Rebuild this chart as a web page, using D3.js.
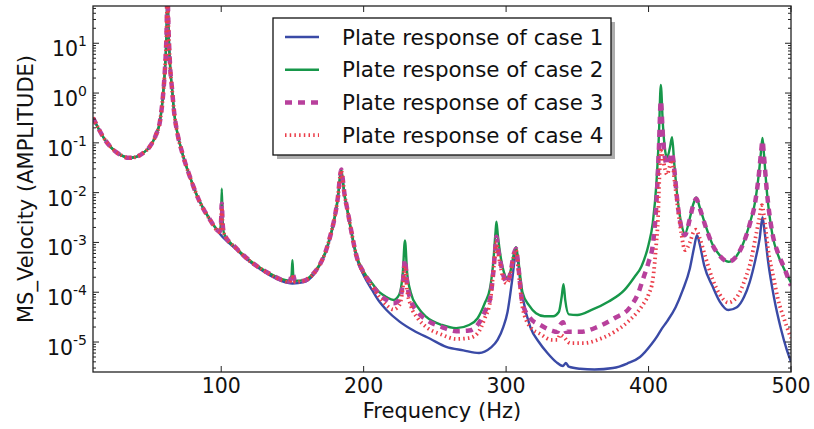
<!DOCTYPE html>
<html>
<head>
<meta charset="utf-8">
<script src="https://cdn.jsdelivr.net/npm/d3@7"></script>
<style>
  body { margin: 0; background: #fff; }
  text { font-family: "DejaVu Sans", sans-serif; fill: #111; }
</style>
</head>
<body>
<svg id="chart" width="814" height="429"></svg>
<script>
// frequency (Hz) / amplitude pairs
const lowBand = [
  [10, 0.32], [14, 0.19], [18, 0.12], [22, 0.085], [26, 0.066], [30, 0.056], [35, 0.05],
  [40, 0.052], [45, 0.062], [50, 0.085], [54, 0.14], [57, 0.27], [59, 0.8], [60.5, 3],
  [61.5, 12], [62.3, 100], [63, 20], [64, 4], [65.5, 1.2], [67, 0.4], [69, 0.17],
  [73, 0.058], [78, 0.021], [84, 0.0075], [92, 0.0029]
];

const case1 = [
  [99, 1.5e-3], [110, 7.5e-4], [118, 4.6e-4], [126, 3.1e-4], [134, 2.2e-4], [142, 1.7e-4],
  [150, 1.5e-4], [158, 1.6e-4], [164, 2.1e-4], [169, 3.4e-4], [173, 6e-4], [177, 1.4e-3],
  [180, 3.5e-3], [182, 8e-3], [183.5, 0.02], [184.3, 0.026], [185.2, 0.018], [186.5, 0.009],
  [188.5, 0.0045], [191, 0.0018], [195, 5e-4], [200, 2.2e-4], [206, 1.1e-4], [211, 6.5e-5],
  [216, 4.4e-5], [225, 2.6e-5], [235, 1.7e-5], [247, 1.15e-5], [258, 8e-6], [270, 6.8e-6],
  [281, 6e-6], [289, 7.6e-6], [294, 1.1e-5], [298, 2e-5], [301, 4e-5], [304, 1.55e-4],
  [306, 4.5e-4], [307, 7e-4], [308.2, 4.5e-4], [310, 1.6e-4], [312, 7e-5], [317, 2e-5],
  [323, 1e-5], [329, 6e-6], [335, 4e-6], [340, 3.3e-6], [342, 3.8e-6], [344, 3.2e-6],
  [352, 2.9e-6], [362, 2.8e-6], [375, 3e-6], [385, 3.7e-6], [394, 5e-6], [402, 9e-6],
  [406, 1.3e-5], [409, 1.8e-5], [413, 2.6e-5], [419, 5e-5], [424, 1.1e-4], [429, 3e-4],
  [432, 8e-4], [434, 1.4e-3], [436, 9e-4], [439, 3.5e-4], [445, 1.3e-4], [450, 6.5e-5],
  [456, 4.4e-5], [462, 5e-5], [467, 8e-5], [471, 1.6e-4], [475, 4.5e-4], [478, 1.2e-3],
  [480, 3.2e-3], [481.5, 1.6e-3], [484, 4e-4], [488, 8e-5], [493, 1.8e-5], [497, 7e-6],
  [500, 4e-6]
];

const case2 = [
  [99, 1.7e-3], [99.8, 2.5e-3], [100.4, 0.012], [101, 2.8e-3], [102, 1.5e-3], [110, 8e-4],
  [118, 4.9e-4], [126, 3.3e-4], [134, 2.4e-4], [142, 1.85e-4], [148, 1.7e-4], [149.4, 2.2e-4],
  [150, 4.4e-4], [150.6, 2.2e-4], [152, 1.7e-4], [158, 1.75e-4], [164, 2.3e-4], [169, 3.6e-4],
  [173, 6.3e-4], [177, 1.5e-3], [180, 3.7e-3], [182, 8.5e-3], [183.5, 0.022], [184.3, 0.029],
  [185.2, 0.02], [186.5, 0.0095], [188.5, 0.0047], [191, 0.0019], [195, 5.5e-4], [200, 2.6e-4],
  [206, 1.5e-4], [211, 1e-4], [216, 8e-5], [221, 7e-5], [225, 9e-5], [227.5, 2.5e-4],
  [229, 1.1e-3], [230.5, 2.5e-4], [233, 1e-4], [238, 5e-5], [244, 3.2e-5], [255, 2.2e-5],
  [265, 1.9e-5], [274, 2.2e-5], [280, 3e-5], [285, 6e-5], [288.7, 1.2e-4], [291, 4e-4],
  [292.5, 1.5e-3], [293.2, 2.6e-3], [294.2, 1.4e-3], [296.5, 4.5e-4], [298.5, 2.5e-4],
  [300.5, 1.95e-4], [303, 2.6e-4], [305.5, 6e-4], [307, 8e-4], [308.5, 4.5e-4], [311.5, 1e-4],
  [316, 5.5e-5], [321, 3.8e-5], [327, 3.3e-5], [333, 3.3e-5], [337, 4e-5], [339, 8e-5],
  [340.3, 1.45e-4], [341.5, 7e-5], [344, 3.6e-5], [350, 3.5e-5], [360, 4.4e-5], [372, 6.5e-5],
  [383, 1.1e-4], [390, 2e-4], [395, 3.3e-4], [400, 9e-4], [403, 2.5e-3], [405.5, 0.015],
  [407.3, 0.15], [408.6, 1.45], [410, 0.25], [411.5, 0.075], [413, 0.05], [415, 0.08],
  [416.5, 0.13], [418, 0.04], [420.5, 0.007], [423, 2.4e-3], [425.5, 1.5e-3], [429, 3.1e-3],
  [431.5, 6e-3], [433.5, 8e-3], [436, 5e-3], [440, 2.2e-3], [445, 9e-4], [450, 5.5e-4],
  [456, 4.1e-4], [461, 5e-4], [466, 8.9e-4], [471, 2.4e-3], [475, 7e-3], [477.5, 0.025],
  [479, 0.07], [480, 0.125], [481, 0.06], [483, 0.011], [487, 1.4e-3], [491, 5.5e-4],
  [495, 3e-4], [500, 1.55e-4]
];

const case3 = [
  [99, 1.65e-3], [99.8, 2.2e-3], [100.4, 6e-3], [101, 2.4e-3], [102, 1.5e-3], [110, 8e-4],
  [118, 4.8e-4], [126, 3.2e-4], [134, 2.35e-4], [142, 1.8e-4], [148, 1.65e-4], [150, 2.4e-4],
  [152, 1.65e-4], [158, 1.7e-4], [164, 2.25e-4], [169, 3.5e-4], [173, 6.2e-4], [177, 1.5e-3],
  [180, 3.6e-3], [182, 8.5e-3], [183.5, 0.022], [184.3, 0.029], [185.2, 0.02], [186.5, 0.0095],
  [188.5, 0.0047], [191, 0.0019], [195, 5.3e-4], [200, 2.5e-4], [206, 1.4e-4], [211, 9e-5],
  [216, 7e-5], [221, 6e-5], [225, 7e-5], [227.5, 1.5e-4], [229, 4.5e-4], [230.5, 1.5e-4],
  [233, 7e-5], [238, 4e-5], [244, 2.8e-5], [255, 2e-5], [265, 1.65e-5], [274, 1.7e-5],
  [280, 2.2e-5], [285, 4e-5], [289, 8e-5], [291, 2.5e-4], [292.5, 8e-4], [293.2, 1.3e-3],
  [294.2, 8e-4], [296.5, 3.5e-4], [298.5, 2e-4], [300.5, 1.55e-4], [303, 2.4e-4], [305.5, 6e-4],
  [307, 7.5e-4], [308.5, 3.5e-4], [311.5, 6e-5], [317, 3e-5], [324, 2.2e-5], [332, 1.7e-5],
  [336, 1.6e-5], [338, 2.2e-5], [340, 2.5e-5], [342, 1.6e-5], [352, 1.6e-5], [364, 2e-5],
  [376, 3e-5], [387, 5e-5], [393, 1e-4], [396, 1.8e-4], [400, 4e-4], [403, 9e-4], [405.5, 6e-3],
  [407.3, 0.08], [408.6, 0.7], [410, 0.15], [411.5, 0.05], [413, 0.036], [415, 0.05],
  [416.5, 0.063], [418, 0.03], [420.5, 0.0056], [423, 2e-3], [425.5, 1.4e-3], [429, 3e-3],
  [431.5, 5.8e-3], [433.5, 7.5e-3], [436, 4.8e-3], [440, 2.1e-3], [445, 8.8e-4], [450, 5.4e-4],
  [456, 4.1e-4], [461, 5e-4], [466, 8.8e-4], [471, 2.3e-3], [475, 6.8e-3], [477.5, 0.024],
  [479, 0.065], [480, 0.11], [481, 0.055], [483, 0.011], [487, 1.5e-3], [491, 6e-4],
  [495, 3.2e-4], [500, 1.35e-4]
];

const case4 = [
  [99, 1.6e-3], [99.8, 2.1e-3], [100.4, 5e-3], [101, 2.2e-3], [102, 1.5e-3], [110, 7.8e-4],
  [118, 4.7e-4], [126, 3.2e-4], [134, 2.3e-4], [142, 1.75e-4], [148, 1.6e-4], [150, 2e-4],
  [152, 1.6e-4], [158, 1.7e-4], [164, 2.2e-4], [169, 3.5e-4], [173, 6.2e-4], [177, 1.5e-3],
  [180, 3.6e-3], [182, 8.5e-3], [183.5, 0.022], [184.3, 0.028], [185.2, 0.02], [186.5, 0.0095],
  [188.5, 0.0047], [191, 0.0019], [195, 5.2e-4], [200, 2.4e-4], [206, 1.3e-4], [211, 8e-5],
  [216, 5.5e-5], [221, 4.5e-5], [225, 5.5e-5], [227.5, 1.2e-4], [229, 3.3e-4], [230.5, 1.1e-4],
  [233, 5.5e-5], [238, 3e-5], [244, 2e-5], [255, 1.4e-5], [265, 1.15e-5], [274, 1.2e-5],
  [280, 1.5e-5], [285, 3e-5], [289, 7e-5], [291, 2.5e-4], [292.5, 7e-4], [293.2, 1e-3],
  [294.5, 6e-4], [296.5, 2.8e-4], [298.5, 1.7e-4], [300.5, 1.5e-4], [303, 2.3e-4], [305.5, 5.5e-4],
  [307, 7e-4], [308.5, 3e-4], [311.5, 5e-5], [317, 2e-5], [324, 1.45e-5], [332, 1.1e-5],
  [336, 1.1e-5], [338, 1.4e-5], [340, 1.3e-5], [345, 9.5e-6], [355, 9.5e-6], [364, 1.1e-5],
  [376, 1.6e-5], [387, 2.8e-5], [396, 5.6e-5], [400, 9e-5], [403, 1.8e-4], [405.5, 1e-3],
  [406.6, 2.8e-3], [407.6, 0.02], [408.7, 0.07], [410, 0.05], [411.5, 0.03], [413, 0.023],
  [415, 0.035], [416.5, 0.045], [418, 0.02], [420.7, 0.0045], [423, 1.5e-3], [425.6, 7e-4],
  [429, 1e-3], [431.5, 1.6e-3], [433.4, 1.8e-3], [436, 1.2e-3], [440, 5e-4], [445, 1.8e-4],
  [450, 9e-5], [456, 6.2e-5], [462, 8e-5], [467.7, 1.8e-4], [472, 4.5e-4], [474.7, 1.1e-3],
  [477.5, 2.8e-3], [479.6, 5.6e-3], [481, 3.5e-3], [484, 7e-4], [488, 1.8e-4], [491, 7e-5],
  [495, 3e-5], [500, 1.2e-5]
];

const seriesNames = [
  'Plate response of case 1',
  'Plate response of case 2',
  'Plate response of case 3',
  'Plate response of case 4'
];
const xTicks = [100, 200, 300, 400, 500];
const yExponents = [-5, -4, -3, -2, -1, 0, 1];

const styles = [
  { color: '#3a4aa6', width: 2.4, dash: null },
  { color: '#17974a', width: 2.4, dash: null },
  { color: '#b8409c', width: 4.5, dash: '7,6' },
  { color: '#eb3e4a', width: 3.8, dash: '1.5,3.2' }
];

const svg = d3.select('#chart');
const padding = { top: 6, right: 23, bottom: 57, left: 93 };
const width = 814 - padding.left - padding.right;
const height = 429 - padding.top - padding.bottom;

const x = d3.scaleLinear().domain([10, 500]).range([padding.left, padding.left + width]);
const y = d3.scaleLog().domain([2.5e-6, 56]).range([padding.top + height, padding.top]);

svg.append('defs').append('clipPath').attr('id', 'plot-clip')
  .append('rect')
  .attr('x', padding.left).attr('y', padding.top)
  .attr('width', width).attr('height', height);

const line = d3.line()
  .x(d => x(d[0]))
  .y(d => y(d[1]))
  .curve(d3.curveMonotoneX);

const allSeries = [case1, case2, case3, case4].map(s => lowBand.concat(s));

const plot = svg.append('g').attr('clip-path', 'url(#plot-clip)');
plot.selectAll('path.series')
  .data(allSeries)
  .enter()
  .append('path')
  .attr('class', 'series')
  .attr('d', line)
  .attr('fill', 'none')
  .attr('stroke', (d, i) => styles[i].color)
  .attr('stroke-width', (d, i) => styles[i].width)
  .attr('stroke-dasharray', (d, i) => styles[i].dash)
  .attr('stroke-linejoin', 'round');

// ticks pointing inward, as on the original
const axes = svg.append('g').attr('stroke', '#222').attr('stroke-width', 1);
const bottom = padding.top + height;
const right = padding.left + width;

xTicks.forEach(t => {
  axes.append('line').attr('x1', x(t)).attr('x2', x(t)).attr('y1', bottom).attr('y2', bottom - 6);
  axes.append('line').attr('x1', x(t)).attr('x2', x(t)).attr('y1', padding.top).attr('y2', padding.top + 6);
});

const minor = [];
for (let e = -6; e <= 1; e++) {
  for (let m = 2; m <= 9; m++) {
    const v = m * Math.pow(10, e);
    if (v > y.domain()[0] && v < y.domain()[1]) minor.push(v);
  }
}
minor.forEach(v => {
  axes.append('line').attr('x1', padding.left).attr('x2', padding.left + 3).attr('y1', y(v)).attr('y2', y(v));
  axes.append('line').attr('x1', right).attr('x2', right - 3).attr('y1', y(v)).attr('y2', y(v));
});
yExponents.forEach(e => {
  const v = Math.pow(10, e);
  axes.append('line').attr('x1', padding.left).attr('x2', padding.left + 6).attr('y1', y(v)).attr('y2', y(v));
  axes.append('line').attr('x1', right).attr('x2', right - 6).attr('y1', y(v)).attr('y2', y(v));
});

svg.append('rect')
  .attr('x', padding.left).attr('y', padding.top)
  .attr('width', width).attr('height', height)
  .attr('fill', 'none').attr('stroke', '#222').attr('stroke-width', 1.3);

// tick labels
svg.selectAll('text.xtick')
  .data(xTicks)
  .enter()
  .append('text')
  .attr('class', 'xtick')
  .attr('x', d => x(d))
  .attr('y', bottom + 21)
  .attr('text-anchor', 'middle')
  .attr('font-size', 20.5)
  .text(d => d);

const ylab = svg.selectAll('text.ytick')
  .data(yExponents)
  .enter()
  .append('text')
  .attr('class', 'ytick')
  .attr('x', padding.left - 6)
  .attr('y', d => y(Math.pow(10, d)) + 13)
  .attr('text-anchor', 'end')
  .attr('font-size', 20.5);
ylab.append('tspan').text('10');
ylab.append('tspan')
  .attr('font-size', 14)
  .attr('dy', -10)
  .text(d => (d < 0 ? '-' : '') + Math.abs(d));

svg.append('text')
  .attr('x', padding.left + width / 2)
  .attr('y', 418)
  .attr('text-anchor', 'middle')
  .attr('font-size', 21)
  .text('Frequency (Hz)');

svg.append('text')
  .attr('transform', `translate(33, ${padding.top + height / 2}) rotate(-90)`)
  .attr('text-anchor', 'middle')
  .attr('font-size', 21)
  .text('MS_Velocity (AMPLITUDE)');

// legend
const legend = svg.append('g').attr('class', 'legend').attr('transform', 'translate(273, 18)');
legend.append('rect')
  .attr('x', 4).attr('y', 4).attr('width', 338).attr('height', 137)
  .attr('fill', '#777').attr('opacity', 0.6);
legend.append('rect')
  .attr('width', 338).attr('height', 137)
  .attr('fill', '#fff').attr('stroke', '#111').attr('stroke-width', 1.3);

const row = legend.selectAll('g.row')
  .data(seriesNames)
  .enter()
  .append('g')
  .attr('class', 'row')
  .attr('transform', (d, i) => `translate(0, ${19 + i * 32.7})`);
row.append('line')
  .attr('x1', 12).attr('x2', 46)
  .attr('stroke', (d, i) => styles[i].color)
  .attr('stroke-width', (d, i) => styles[i].width)
  .attr('stroke-dasharray', (d, i) => styles[i].dash);
row.append('text')
  .attr('x', 69)
  .attr('dy', '0.36em')
  .attr('font-size', 21.4)
  .text(d => d);
</script>
</body>
</html>
